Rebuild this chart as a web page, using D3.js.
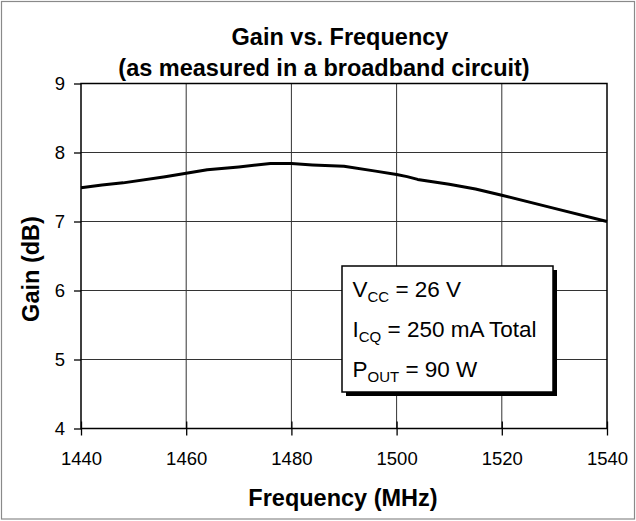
<!DOCTYPE html>
<html>
<head>
<meta charset="utf-8">
<script src="https://cdn.jsdelivr.net/npm/d3@7"></script>
<style>
  body { margin: 0; background: #fff; }
  text { font-family: "Liberation Sans", Arial, sans-serif; fill: #000; }
</style>
</head>
<body>
<div class="container"></div>
<script>
// frequency (MHz) and gain (dB)
const freq = [1440, 1444, 1448, 1456, 1460, 1464, 1470, 1476, 1480, 1484, 1490, 1496, 1500, 1502, 1504, 1510, 1515, 1520, 1530, 1540];
const gain = [7.49, 7.53, 7.56, 7.65, 7.70, 7.75, 7.79, 7.84, 7.84, 7.82, 7.80, 7.73, 7.68, 7.65, 7.61, 7.54, 7.47, 7.38, 7.19, 7.00];
const xTicks = [1440, 1460, 1480, 1500, 1520, 1540];
const yTicks = [4, 5, 6, 7, 8, 9];
const legendLines = [
    { main: 'V', sub: 'CC', rest: ' = 26 V' },
    { main: 'I', sub: 'CQ', rest: ' = 250 mA Total' },
    { main: 'P', sub: 'OUT', rest: ' = 90 W' },
];

const w = 636;
const h = 521;
const margin = { top: 83.5, left: 81, right: 29, bottom: 92.5 };

const svg = d3.select('.container')
    .append('svg')
    .attr('width', w)
    .attr('height', h);

// outer frame
svg.append('rect')
    .attr('x', 1.5).attr('y', 1.5)
    .attr('width', w - 3).attr('height', h - 3.5)
    .attr('fill', '#fff')
    .attr('stroke', '#8a8a8a')
    .attr('stroke-width', 1.2);

const xScale = d3.scaleLinear().domain([1440, 1540]).range([margin.left, w - margin.right]);
const yScale = d3.scaleLinear().domain([4, 9]).range([h - margin.bottom, margin.top]);

// grid
svg.append('g')
    .selectAll('line')
    .data(xTicks.slice(1, -1))
    .join('line')
    .attr('x1', d => xScale(d)).attr('x2', d => xScale(d))
    .attr('y1', yScale(9)).attr('y2', yScale(4))
    .attr('stroke', '#333').attr('stroke-width', 1);

svg.append('g')
    .selectAll('line')
    .data(yTicks.slice(1, -1))
    .join('line')
    .attr('x1', xScale(1440)).attr('x2', xScale(1540))
    .attr('y1', d => yScale(d)).attr('y2', d => yScale(d))
    .attr('stroke', '#333').attr('stroke-width', 1);

// axes
const xAxis = d3.axisBottom(xScale).tickValues(xTicks).tickFormat(d3.format('d')).tickSize(7).tickPadding(16);
const gx = svg.append('g')
    .attr('transform', `translate(0, ${yScale(4)})`)
    .call(xAxis);
gx.select('.domain').remove();
gx.selectAll('line').attr('stroke', '#000').attr('stroke-width', 1.3).attr('y1', -7);
gx.selectAll('text').style('font-size', '18.5px').attr('fill', '#000')
    .attr('font-family', '"Liberation Sans", Arial, sans-serif');

const yAxis = d3.axisLeft(yScale).tickValues(yTicks).tickFormat(d3.format('d')).tickSize(7).tickPadding(9);
const gy = svg.append('g')
    .attr('transform', `translate(${xScale(1440)}, 0)`)
    .call(yAxis);
gy.select('.domain').remove();
gy.selectAll('line').attr('stroke', '#000').attr('stroke-width', 1.3);
gy.selectAll('text').style('font-size', '18.5px').attr('fill', '#000')
    .attr('font-family', '"Liberation Sans", Arial, sans-serif');

// plot frame
svg.append('rect')
    .attr('x', xScale(1440)).attr('y', yScale(9))
    .attr('width', xScale(1540) - xScale(1440))
    .attr('height', yScale(4) - yScale(9))
    .attr('fill', 'none')
    .attr('stroke', '#000')
    .attr('stroke-width', 1.5);

// curve
const line = d3.line()
    .x((d, i) => xScale(freq[i]))
    .y(d => yScale(d));

svg.append('path')
    .datum(gain)
    .attr('d', line)
    .attr('fill', 'none')
    .attr('stroke', '#000')
    .attr('stroke-width', 3)
    .attr('stroke-linejoin', 'round');

// legend box with shadow
const box = { x: 342, y: 266, w: 211, h: 126 };
svg.append('rect')
    .attr('x', box.x + 4).attr('y', box.y + 4)
    .attr('width', box.w).attr('height', box.h)
    .attr('fill', '#000');
svg.append('rect')
    .attr('x', box.x).attr('y', box.y)
    .attr('width', box.w).attr('height', box.h)
    .attr('fill', '#fff')
    .attr('stroke', '#000')
    .attr('stroke-width', 1.5);

const legend = svg.append('g');
legendLines.forEach((l, i) => {
    const t = legend.append('text')
        .attr('x', 352.5)
        .attr('y', 296.5 + i * 40)
        .style('font-size', '22.5px');
    t.append('tspan').text(l.main);
    t.append('tspan').text(l.sub).attr('dy', 5).style('font-size', '15px');
    t.append('tspan').text(l.rest).attr('dy', -5);
});

// titles
svg.append('text')
    .text('Gain vs. Frequency')
    .attr('x', 340)
    .attr('y', 45)
    .attr('text-anchor', 'middle')
    .style('font-size', '23.5px')
    .style('font-weight', 'bold');

svg.append('text')
    .text('(as measured in a broadband circuit)')
    .attr('x', 324)
    .attr('y', 76)
    .attr('text-anchor', 'middle')
    .style('font-size', '23.5px')
    .style('font-weight', 'bold');

svg.append('text')
    .text('Frequency (MHz)')
    .attr('x', 343)
    .attr('y', 506)
    .attr('text-anchor', 'middle')
    .style('font-size', '23.5px')
    .style('font-weight', 'bold');

svg.append('text')
    .text('Gain (dB)')
    .attr('transform', 'translate(39, 269) rotate(-90)')
    .attr('text-anchor', 'middle')
    .style('font-size', '23.5px')
    .style('font-weight', 'bold');
</script>
</body>
</html>
